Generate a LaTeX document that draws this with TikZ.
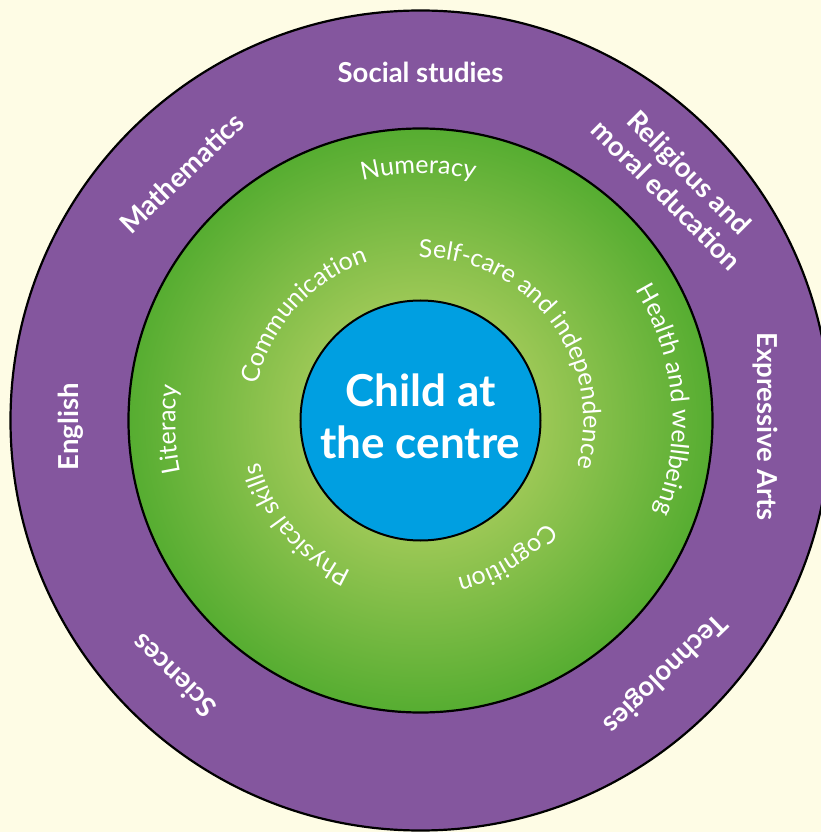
\documentclass[tikz,border=0pt]{standalone}
\usepackage{fontspec}
\setmainfont{Lato}
\usetikzlibrary{decorations.text}

\definecolor{bgcream}{HTML}{FEFCE5}
\definecolor{ringpurple}{HTML}{84569E}
\definecolor{ringdark}{HTML}{56AD31}
\definecolor{ringlight}{HTML}{CCDA6F}
\definecolor{childblue}{HTML}{009FE1}

\tikzset{
  ring/.style={draw=black, line width=2.2pt},
  subject/.style={text=white, font=\bfseries\fontsize{27.5}{32}\selectfont, align=center},
  child/.style={text=white, font=\bfseries\fontsize{44}{52}\selectfont, align=center}
}

% curved label: radius, start angle, end angle, text
\newcommand\arclabel[4]{%
  \path[decorate, decoration={text along path, text align=center, text color=white,
        text={|\fontsize{25}{29}\selectfont|#4}}]
    (#2:#1) arc[start angle=#2, end angle=#3, radius=#1];}

\begin{document}
\begin{tikzpicture}[x=1pt,y=1pt]
  \useasboundingbox (-420.5,-411.5) rectangle (400.5,420.5);
  \fill[bgcream] (-420.5,-411.5) rectangle (400.5,420.5);
  \clip (-420.5,-411.5) rectangle (400.5,420.5);

  % rings
  \draw[ring, fill=ringpurple] (0,0) circle[radius=410];
  \draw[ring, inner color=ringlight, outer color=ringdark] (0,0) circle[radius=292];
  \draw[ring, line width=2pt, fill=childblue] (0,0) circle[radius=120];

  % curriculum areas
  \node[subject]              (social)   at (90:348)   {Social studies};
  \node[subject, rotate=44]   (maths)    at (134:344)  {Mathematics};
  \node[subject, rotate=-45]  (rme)      at (42.6:350) {Religious and\\moral education};
  \node[subject, rotate=-90]  (arts)     at (-1:345)   {Expressive Arts};
  \node[subject, rotate=-136] (tech)     at (-46:351)  {Technologies};
  \node[subject, rotate=136]  (sciences) at (226:355)  {Sciences};
  \node[subject, rotate=90]   (english)  at (181:350)  {English};

  % development areas
  \arclabel{247}{150}{31}{Numeracy}
  \arclabel{245}{212}{152}{Literacy}
  \arclabel{252}{65}{-55}{Health and wellbeing}
  \arclabel{167}{200}{76}{Communication}
  \arclabel{163}{120}{-46}{Self-care and independence}
  \arclabel{166}{280}{160}{Physical skills}
  \arclabel{162}{0}{-116}{Cognition}

  \node[child] (centre) at (0,4) {Child at\\the centre};
\end{tikzpicture}
\end{document}
